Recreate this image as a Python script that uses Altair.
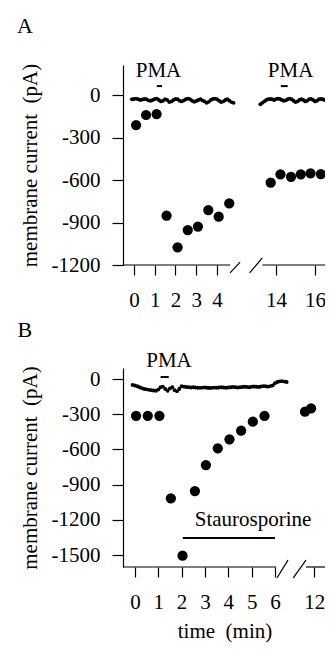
import altair as alt
import pandas as pd

FONT = "Liberation Serif"
INK = "black"

# ---------------- Panel A ----------------
a_big_t = [0.1, 0.58, 1.09, 1.57, 2.1, 2.59, 3.08, 3.58, 4.08, 4.59,
           13.73, 14.23, 14.77, 15.27, 15.77, 16.3]
a_big_i = [-212, -141, -134, -852, -1075, -953, -929, -812, -859, -765,
           -619, -560, -577, -560, -553, -558]
a_hold1_start = -0.1
a_hold1_i = [-30, -28, -25, -30, -35, -32, -28, -30, -38, -40,
             -35, -28, -25, -35, -45, -40, -30, -35, -50, -45,
             -35, -28, -30, -40, -45, -38, -30, -25, -30, -40,
             -48, -42, -35, -30, -38, -45, -55, -48, -35, -28,
             -25, -30, -40, -50, -45, -35, -30, -40, -50, -55]
a_hold2_start = 13.2
a_hold2_i = [-65, -55, -45, -35, -30, -28, -30, -35, -30, -25,
             -28, -35, -40, -38, -30, -25, -30, -40, -50, -45,
             -35, -30, -35, -45, -40, -30, -28, -35, -45, -40,
             -30, -28, -30, -35, -40, -35, -30]
a_bar_t0 = [1.1, 14.25]
a_bar_t1 = [1.35, 14.6]
a_bar_i = [63, 63]
a_lab_text = ["PMA", "PMA", "A"]
a_lab_t = [1.18, 14.75, -5.25]
a_lab_i = [127, 127, 438]
a_lab_size = [21, 21, 22]
a_xticks = [0, 1, 2, 3, 4, 14, 16]
a_yticks = [0, -300, -600, -900, -1200]
a_ydomain = [-1200, 212]
a_yrange = [257, 57]
a_xdomain = [-0.53, 5.2, 12.9, 16.85]
a_xrange = [0, 118.9, 131.5, 208.6]
a_xaxis_offset = -378
a_axis_t0 = [-0.53, 13.3]
a_axis_t1 = [4.63, 16.85]
a_brk_t0 = [4.63, 9.9]
a_brk_t1 = [5.11, 13.3]
a_brk_i0 = [-1256, -1256]
a_brk_i1 = [-1180, -1150]

# ---------------- Panel B ----------------
b_big_t = [0.05, 0.55, 1.05, 1.54, 2.04, 2.57, 3.04, 3.55, 4.05, 4.55, 5.05, 5.55,
           11.6, 11.86]
b_big_i = [-313, -313, -313, -1017, -1506, -955, -733, -591, -514, -440, -364, -315,
           -278, -250]
b_hold_start = -0.1
b_hold_i = [-50, -55, -62, -70, -78, -85, -88, -92, -95, -98, -100,
            -90, -70, -65, -85, -100, -80, -70, -95, -105, -85,
            -62, -65, -68, -70, -72, -70, -72, -74, -75, -73,
            -72, -74, -76, -75, -73, -74, -72, -70, -72, -74,
            -72, -70, -68, -70, -72, -70, -68, -66, -68, -70,
            -66, -64, -66, -68, -64, -60, -62, -65, -60, -55,
            -35, -25, -20, -18, -22, -25]
b_bar_t0 = [1.1, 2.05]
b_bar_t1 = [1.45, 6.0]
b_bar_i = [17, -1355]
b_lab_text = ["PMA", "Staurosporine", "B"]
b_lab_t = [1.46, 5.06, -4.71]
b_lab_i = [102, -1253, 358]
b_lab_size = [21, 21, 22]
b_xticks = [0, 1, 2, 3, 4, 5, 6, 12]
b_yticks = [0, -300, -600, -900, -1200, -1500]
b_ydomain = [-1602, 94]
b_yrange = [559, 360]
b_xdomain = [-0.51, 6.6, 11.0, 12.5]
b_xrange = [0, 166, 168, 203]
b_xaxis_offset = -76
b_axis_t0 = [-0.51, 11.64]
b_axis_t1 = [6.05, 12.5]
b_brk_t0 = [6.085, 11.09]
b_brk_t1 = [6.556, 11.64]
b_brk_i0 = [-1696, -1696]
b_brk_i1 = [-1543, -1543]


def series(start, values):
    return pd.DataFrame({"t": [round(start + 0.1 * k, 2) for k in range(len(values))],
                         "i": values})


def panel(big_t, big_i, holds, bar_t0, bar_t1, bar_i, lab_t, lab_i, lab_text, lab_size,
          axis_t0, axis_t1, brk_t0, brk_t1, brk_i0, brk_i1,
          xdomain, xrange, ydomain, yrange, xticks, yticks, xtitle, xoffset):
    xs = alt.Scale(domain=xdomain, range=xrange, nice=False, zero=False)
    ys = alt.Scale(domain=ydomain, range=yrange, nice=False, zero=False)
    xaxis_kw = dict(values=xticks, orient="bottom", offset=xoffset, domain=False,
                    grid=False, tickSize=10, tickWidth=1.2,
                    tickColor=INK, labelFont=FONT, labelFontSize=21, labelColor=INK,
                    labelPadding=14, labelFlush=False, labelOverlap=False)
    if xtitle:
        xaxis = alt.Axis(title=xtitle, titleFont=FONT, titleFontSize=21,
                         titleFontWeight="normal", titleColor=INK, titlePadding=8,
                         **xaxis_kw)
    else:
        xaxis = alt.Axis(title=None, **xaxis_kw)
    yaxis = alt.Axis(values=yticks, orient="left", grid=False, domainColor=INK,
                     domainWidth=1.2, tickSize=11, tickWidth=1.2, tickColor=INK,
                     labelFont=FONT, labelFontSize=21, labelColor=INK, labelPadding=12,
                     labelFlush=False, labelOverlap=False, labelExpr="datum.value + ''",
                     title="membrane current\u00a0 (pA)",
                     titleFont=FONT, titleFontSize=21, titleFontWeight="normal",
                     titleColor=INK, titlePadding=11)

    def X(f):
        return alt.X(f + ":Q", scale=xs, axis=xaxis)

    def Y(f):
        return alt.Y(f + ":Q", scale=ys, axis=yaxis)

    big = alt.Chart(pd.DataFrame({"t": big_t, "i": big_i})).mark_circle(
        size=105, color=INK, opacity=1).encode(x=X("t"), y=Y("i"))
    hold = alt.Chart(pd.concat([series(s, v) for s, v in holds])).mark_circle(
        size=15, color=INK, opacity=1).encode(x=X("t"), y=Y("i"))
    bars = alt.Chart(pd.DataFrame({"t0": bar_t0, "t1": bar_t1, "i": bar_i})).mark_rule(
        color=INK, strokeWidth=2).encode(x=X("t0"), x2="t1:Q", y=Y("i"))
    labels = alt.Chart(pd.DataFrame({"t": lab_t, "i": lab_i, "txt": lab_text,
                                     "fs": lab_size})).mark_text(
        font=FONT, color=INK, align="center", baseline="alphabetic").encode(
        x=X("t"), y=Y("i"), text="txt:N",
        size=alt.Size("fs:Q", scale=None, legend=None))
    axis_line = alt.Chart(pd.DataFrame({"t0": axis_t0, "t1": axis_t1,
                                        "i": [ydomain[0]] * len(axis_t0)})).mark_rule(
        color=INK, strokeWidth=1.2).encode(x=X("t0"), x2="t1:Q", y=Y("i"))
    brk = alt.Chart(pd.DataFrame({"t0": brk_t0, "t1": brk_t1, "i0": brk_i0,
                                  "i1": brk_i1})).mark_rule(
        color=INK, strokeWidth=1.2).encode(x=X("t0"), x2="t1:Q", y=Y("i0"), y2="i1:Q")
    return alt.layer(axis_line, brk, bars, hold, big, labels)


chart_a = panel(a_big_t, a_big_i, [(a_hold1_start, a_hold1_i), (a_hold2_start, a_hold2_i)],
                a_bar_t0, a_bar_t1, a_bar_i, a_lab_t, a_lab_i, a_lab_text, a_lab_size,
                a_axis_t0, a_axis_t1, a_brk_t0, a_brk_t1, a_brk_i0, a_brk_i1,
                a_xdomain, a_xrange, a_ydomain, a_yrange, a_xticks, a_yticks, None,
                a_xaxis_offset)
chart_b = panel(b_big_t, b_big_i, [(b_hold_start, b_hold_i)],
                b_bar_t0, b_bar_t1, b_bar_i, b_lab_t, b_lab_i, b_lab_text, b_lab_size,
                b_axis_t0, b_axis_t1, b_brk_t0, b_brk_t1, b_brk_i0, b_brk_i1,
                b_xdomain, b_xrange, b_ydomain, b_yrange, b_xticks, b_yticks,
                "time\u00a0 (min)", b_xaxis_offset)

chart = alt.layer(chart_a, chart_b).resolve_scale(
    x="independent", y="independent"
).resolve_axis(
    x="independent", y="independent"
).properties(
    width=202, height=635, autosize=alt.AutoSizeParams(type="none"),
    padding={"left": 115, "top": 0, "right": 0, "bottom": 0},
    background="white"
).configure_view(strokeWidth=0)

chart.save("out.html", embed_options={"renderer": "svg", "actions": False})
